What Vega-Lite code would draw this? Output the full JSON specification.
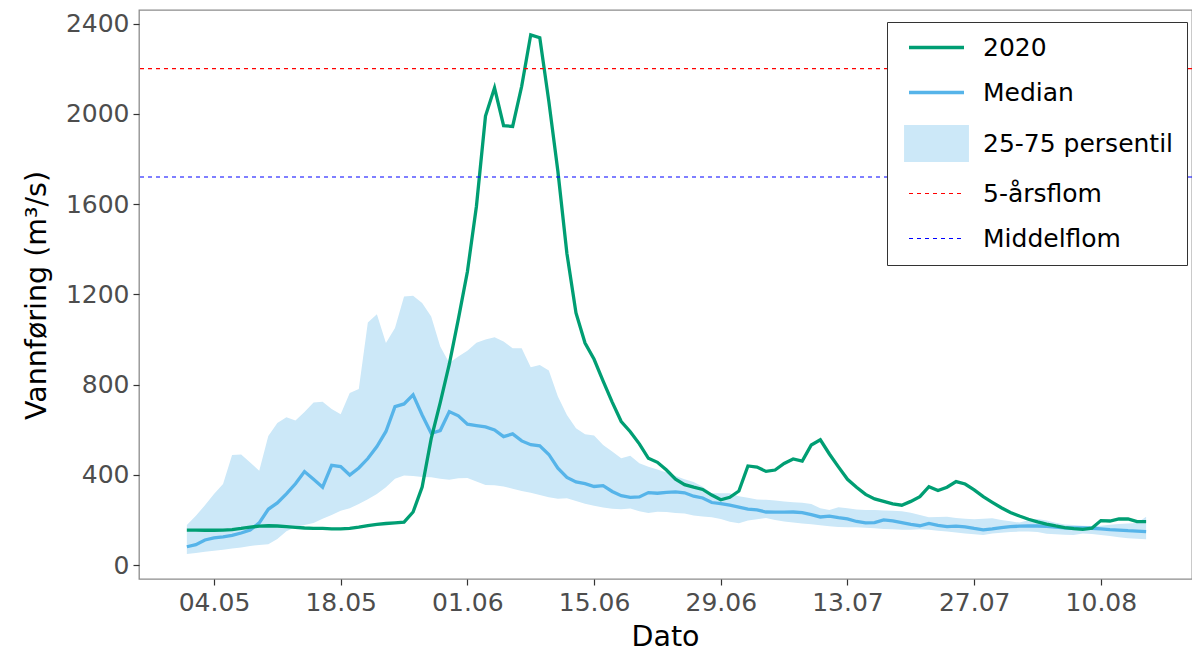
{
  "$schema": "https://vega.github.io/schema/vega-lite/v6.json",
  "autosize": "none",
  "padding": {"left": 139, "top": 10, "right": 0, "bottom": 74},
  "width": 1053,
  "height": 569,
  "background": "white",
  "config": {
    "font": "DejaVu Sans",
    "view": {"stroke": "#8C8C8C", "strokeWidth": 1.3},
    "legend": {
      "title": null,
      "orient": "none",
      "legendX": 748,
      "legendY": 12,
      "direction": "vertical",
      "padding": 13,
      "strokeColor": "#333333",
      "fillColor": "#FFFFFF",
      "cornerRadius": 0,
      "symbolType": "stroke",
      "symbolSize": 3025,
      "symbolStrokeWidth": 3.3,
      "symbolOffset": 24,
      "labelOffset": 34,
      "labelFont": "DejaVu Sans",
      "labelFontSize": 25,
      "labelColor": "#000000",
      "labelLimit": 400,
      "rowPadding": 19
    }
  },
  "datasets": {
    "flow": [
      {"d":"2020-05-01","2020":155,"Median":81,"p25":49,"p75":177},
      {"d":"2020-05-02","2020":155,"Median":90,"p25":53,"p75":218},
      {"d":"2020-05-03","2020":154,"Median":111,"p25":59,"p75":265},
      {"d":"2020-05-04","2020":154,"Median":120,"p25":63,"p75":315},
      {"d":"2020-05-05","2020":155,"Median":125,"p25":68,"p75":359},
      {"d":"2020-05-06","2020":157,"Median":131,"p25":73,"p75":488},
      {"d":"2020-05-07","2020":162,"Median":142,"p25":78,"p75":490},
      {"d":"2020-05-08","2020":168,"Median":155,"p25":84,"p75":454},
      {"d":"2020-05-09","2020":172,"Median":187,"p25":89,"p75":418},
      {"d":"2020-05-10","2020":174,"Median":247,"p25":92,"p75":572},
      {"d":"2020-05-11","2020":173,"Median":275,"p25":115,"p75":630},
      {"d":"2020-05-12","2020":170,"Median":315,"p25":150,"p75":655},
      {"d":"2020-05-13","2020":167,"Median":360,"p25":168,"p75":640},
      {"d":"2020-05-14","2020":164,"Median":414,"p25":177,"p75":678},
      {"d":"2020-05-15","2020":162,"Median":380,"p25":186,"p75":720},
      {"d":"2020-05-16","2020":162,"Median":345,"p25":205,"p75":724},
      {"d":"2020-05-17","2020":160,"Median":442,"p25":222,"p75":692},
      {"d":"2020-05-18","2020":160,"Median":436,"p25":240,"p75":668},
      {"d":"2020-05-19","2020":162,"Median":399,"p25":252,"p75":762},
      {"d":"2020-05-20","2020":168,"Median":430,"p25":270,"p75":780},
      {"d":"2020-05-21","2020":175,"Median":472,"p25":292,"p75":1075},
      {"d":"2020-05-22","2020":180,"Median":525,"p25":315,"p75":1112},
      {"d":"2020-05-23","2020":184,"Median":592,"p25":345,"p75":984},
      {"d":"2020-05-24","2020":187,"Median":702,"p25":382,"p75":1050},
      {"d":"2020-05-25","2020":190,"Median":714,"p25":397,"p75":1190},
      {"d":"2020-05-26","2020":235,"Median":754,"p25":395,"p75":1193},
      {"d":"2020-05-27","2020":345,"Median":665,"p25":390,"p75":1161},
      {"d":"2020-05-28","2020":560,"Median":584,"p25":389,"p75":1102},
      {"d":"2020-05-29","2020":720,"Median":596,"p25":382,"p75":968},
      {"d":"2020-05-30","2020":890,"Median":680,"p25":378,"p75":895},
      {"d":"2020-05-31","2020":1090,"Median":661,"p25":385,"p75":924},
      {"d":"2020-06-01","2020":1300,"Median":624,"p25":386,"p75":950},
      {"d":"2020-06-02","2020":1590,"Median":618,"p25":370,"p75":985},
      {"d":"2020-06-03","2020":1990,"Median":612,"p25":355,"p75":1000},
      {"d":"2020-06-04","2020":2115,"Median":599,"p25":353,"p75":1010},
      {"d":"2020-06-05","2020":1947,"Median":569,"p25":348,"p75":991},
      {"d":"2020-06-06","2020":1944,"Median":581,"p25":338,"p75":961},
      {"d":"2020-06-07","2020":2122,"Median":550,"p25":328,"p75":961},
      {"d":"2020-06-08","2020":2350,"Median":533,"p25":320,"p75":877},
      {"d":"2020-06-09","2020":2337,"Median":528,"p25":310,"p75":887},
      {"d":"2020-06-10","2020":2055,"Median":490,"p25":300,"p75":862},
      {"d":"2020-06-11","2020":1745,"Median":429,"p25":294,"p75":747},
      {"d":"2020-06-12","2020":1380,"Median":388,"p25":296,"p75":665},
      {"d":"2020-06-13","2020":1117,"Median":368,"p25":284,"p75":606},
      {"d":"2020-06-14","2020":984,"Median":361,"p25":272,"p75":580},
      {"d":"2020-06-15","2020":912,"Median":348,"p25":263,"p75":574},
      {"d":"2020-06-16","2020":815,"Median":352,"p25":255,"p75":532},
      {"d":"2020-06-17","2020":722,"Median":326,"p25":249,"p75":503},
      {"d":"2020-06-18","2020":636,"Median":307,"p25":247,"p75":473},
      {"d":"2020-06-19","2020":591,"Median":300,"p25":251,"p75":484},
      {"d":"2020-06-20","2020":537,"Median":302,"p25":238,"p75":451},
      {"d":"2020-06-21","2020":473,"Median":321,"p25":230,"p75":435},
      {"d":"2020-06-22","2020":455,"Median":318,"p25":236,"p75":423},
      {"d":"2020-06-23","2020":421,"Median":322,"p25":235,"p75":410},
      {"d":"2020-06-24","2020":380,"Median":324,"p25":231,"p75":395},
      {"d":"2020-06-25","2020":356,"Median":320,"p25":228,"p75":380},
      {"d":"2020-06-26","2020":345,"Median":305,"p25":220,"p75":368},
      {"d":"2020-06-27","2020":335,"Median":297,"p25":215,"p75":347},
      {"d":"2020-06-28","2020":310,"Median":277,"p25":212,"p75":318},
      {"d":"2020-06-29","2020":289,"Median":272,"p25":204,"p75":318},
      {"d":"2020-06-30","2020":300,"Median":265,"p25":192,"p75":318},
      {"d":"2020-07-01","2020":328,"Median":257,"p25":185,"p75":305},
      {"d":"2020-07-02","2020":439,"Median":248,"p25":197,"p75":298},
      {"d":"2020-07-03","2020":434,"Median":244,"p25":203,"p75":290},
      {"d":"2020-07-04","2020":415,"Median":235,"p25":208,"p75":289},
      {"d":"2020-07-05","2020":421,"Median":234,"p25":200,"p75":286},
      {"d":"2020-07-06","2020":450,"Median":234,"p25":193,"p75":281},
      {"d":"2020-07-07","2020":470,"Median":235,"p25":188,"p75":278},
      {"d":"2020-07-08","2020":461,"Median":232,"p25":184,"p75":276},
      {"d":"2020-07-09","2020":532,"Median":223,"p25":181,"p75":270},
      {"d":"2020-07-10","2020":555,"Median":213,"p25":176,"p75":252},
      {"d":"2020-07-11","2020":492,"Median":217,"p25":172,"p75":244},
      {"d":"2020-07-12","2020":435,"Median":210,"p25":168,"p75":256},
      {"d":"2020-07-13","2020":380,"Median":204,"p25":167,"p75":252},
      {"d":"2020-07-14","2020":345,"Median":193,"p25":167,"p75":246},
      {"d":"2020-07-15","2020":313,"Median":187,"p25":165,"p75":244},
      {"d":"2020-07-16","2020":293,"Median":188,"p25":163,"p75":244},
      {"d":"2020-07-17","2020":282,"Median":200,"p25":160,"p75":242},
      {"d":"2020-07-18","2020":271,"Median":196,"p25":158,"p75":241},
      {"d":"2020-07-19","2020":265,"Median":188,"p25":156,"p75":238},
      {"d":"2020-07-20","2020":282,"Median":180,"p25":156,"p75":232},
      {"d":"2020-07-21","2020":303,"Median":174,"p25":158,"p75":222},
      {"d":"2020-07-22","2020":347,"Median":184,"p25":156,"p75":212},
      {"d":"2020-07-23","2020":330,"Median":176,"p25":152,"p75":213},
      {"d":"2020-07-24","2020":345,"Median":170,"p25":148,"p75":214},
      {"d":"2020-07-25","2020":370,"Median":172,"p25":144,"p75":208},
      {"d":"2020-07-26","2020":359,"Median":169,"p25":140,"p75":205},
      {"d":"2020-07-27","2020":333,"Median":162,"p25":136,"p75":203},
      {"d":"2020-07-28","2020":303,"Median":156,"p25":133,"p75":205},
      {"d":"2020-07-29","2020":278,"Median":160,"p25":140,"p75":207},
      {"d":"2020-07-30","2020":254,"Median":166,"p25":143,"p75":200},
      {"d":"2020-07-31","2020":233,"Median":170,"p25":146,"p75":194},
      {"d":"2020-08-01","2020":217,"Median":172,"p25":148,"p75":188},
      {"d":"2020-08-02","2020":203,"Median":173,"p25":148,"p75":198},
      {"d":"2020-08-03","2020":191,"Median":173,"p25":146,"p75":204},
      {"d":"2020-08-04","2020":181,"Median":171,"p25":139,"p75":197},
      {"d":"2020-08-05","2020":173,"Median":168,"p25":136,"p75":187},
      {"d":"2020-08-06","2020":166,"Median":165,"p25":134,"p75":180},
      {"d":"2020-08-07","2020":161,"Median":164,"p25":133,"p75":177},
      {"d":"2020-08-08","2020":158,"Median":164,"p25":140,"p75":174},
      {"d":"2020-08-09","2020":163,"Median":163,"p25":137,"p75":173},
      {"d":"2020-08-10","2020":197,"Median":160,"p25":133,"p75":174},
      {"d":"2020-08-11","2020":195,"Median":157,"p25":129,"p75":178},
      {"d":"2020-08-12","2020":204,"Median":155,"p25":123,"p75":182},
      {"d":"2020-08-13","2020":204,"Median":152,"p25":119,"p75":184},
      {"d":"2020-08-14","2020":192,"Median":150,"p25":116,"p75":186},
      {"d":"2020-08-15","2020":192,"Median":148,"p25":114,"p75":214}
    ],
    "refs": [
      {"serie": "5-årsflom", "v": 2200},
      {"serie": "Middelflom", "v": 1720}
    ]
  },
  "layer": [
    {
      "data": {"name": "flow"},
      "mark": {"type": "area", "opacity": 1, "fillOpacity": 1},
      "encoding": {
        "x": {
          "field": "d", "type": "temporal",
          "scale": {"type": "utc", "nice": false, "domain": [
            {"year": 2020, "month": 4, "date": 25, "hours": 17, "minutes": 7, "utc": true},
            {"year": 2020, "month": 8, "date": 20, "hours": 1, "minutes": 40, "utc": true}
          ]},
          "axis": {
            "title": "Dato",
            "values": [
              {"year": 2020, "month": 5, "date": 4, "utc": true},
              {"year": 2020, "month": 5, "date": 18, "utc": true},
              {"year": 2020, "month": 6, "date": 1, "utc": true},
              {"year": 2020, "month": 6, "date": 15, "utc": true},
              {"year": 2020, "month": 6, "date": 29, "utc": true},
              {"year": 2020, "month": 7, "date": 13, "utc": true},
              {"year": 2020, "month": 7, "date": 27, "utc": true},
              {"year": 2020, "month": 8, "date": 10, "utc": true}
            ],
            "format": "%d.%m",
            "grid": false,
            "domain": false,
            "ticks": true, "tickSize": 6, "tickColor": "#333333", "tickWidth": 1.2,
            "labelPadding": 5, "labelFontSize": 25, "labelColor": "#4D4D4D",
            "labelFlush": false, "labelOverlap": false,
            "titleFontSize": 28.5, "titleFontWeight": "normal", "titleColor": "#000000",
            "titleX": 526, "titleY": 57, "titleBaseline": "middle", "titleAlign": "center"
          }
        },
        "y": {
          "field": "p25", "type": "quantitative",
          "scale": {"domain": [-62, 2460], "nice": false, "zero": false},
          "axis": {
            "title": "Vannføring (m³/s)",
            "values": [0, 400, 800, 1200, 1600, 2000, 2400],
            "format": "d",
            "grid": false,
            "domain": false,
            "tickSize": 6, "tickColor": "#333333", "tickWidth": 1.2,
            "labelPadding": 4, "labelFontSize": 25, "labelColor": "#4D4D4D",
            "labelFlush": false, "labelOverlap": false,
            "titleFontSize": 28.5, "titleFontWeight": "normal", "titleColor": "#000000",
            "titleX": -103, "titleY": 285, "titleBaseline": "middle", "titleAlign": "center", "titleAngle": -90
          }
        },
        "y2": {"field": "p75"},
        "color": {
          "datum": "25-75 persentil", "type": "nominal", "title": null,
          "scale": {
            "domain": ["2020", "Median", "25-75 persentil", "5-årsflom", "Middelflom"],
            "range": ["#009E73", "#56B4E9", "#CCE8F8", "#FF0000", "#0000FF"]
          },
          "legend": {
            "title": null,
            "encode": {
              "symbols": {
                "update": {
                  "shape": {"signal": "datum.index === 2 ? 'M-1.18,-0.67H1.18V0.67H-1.18Z' : 'stroke'"},
                  "fill": {"scale": "color", "field": "value"},
                  "stroke": {"scale": "color", "field": "value"},
                  "fillOpacity": {"signal": "datum.index === 2 ? 1 : 0"},
                  "strokeOpacity": {"signal": "datum.index === 2 ? 0 : 1"},
                  "strokeWidth": {"signal": "datum.index >= 3 ? 1.1 : 3.3"},
                  "strokeDash": {"signal": "datum.index >= 3 ? [4, 4] : []"},
                  "opacity": {"value": 1}
                }
              }
            }
          }
        }
      }
    },
    {
      "data": {"name": "flow"},
      "mark": {"type": "line", "strokeWidth": 3.3},
      "encoding": {
        "x": {"field": "d", "type": "temporal"},
        "y": {"field": "Median", "type": "quantitative"},
        "color": {
          "datum": "Median", "type": "nominal", "title": null,
          "legend": {
            "title": null,
            "encode": {
              "symbols": {
                "update": {
                  "shape": {"signal": "datum.index === 2 ? 'M-1.18,-0.67H1.18V0.67H-1.18Z' : 'stroke'"},
                  "fill": {"scale": "color", "field": "value"},
                  "stroke": {"scale": "color", "field": "value"},
                  "fillOpacity": {"signal": "datum.index === 2 ? 1 : 0"},
                  "strokeOpacity": {"signal": "datum.index === 2 ? 0 : 1"},
                  "strokeWidth": {"signal": "datum.index >= 3 ? 1.1 : 3.3"},
                  "strokeDash": {"signal": "datum.index >= 3 ? [4, 4] : []"},
                  "opacity": {"value": 1}
                }
              }
            }
          }
        }
      }
    },
    {
      "data": {"name": "flow"},
      "mark": {"type": "line", "strokeWidth": 3.3},
      "encoding": {
        "x": {"field": "d", "type": "temporal"},
        "y": {"field": "2020", "type": "quantitative"},
        "color": {
          "datum": "2020", "type": "nominal", "title": null,
          "legend": {
            "title": null,
            "encode": {
              "symbols": {
                "update": {
                  "shape": {"signal": "datum.index === 2 ? 'M-1.18,-0.67H1.18V0.67H-1.18Z' : 'stroke'"},
                  "fill": {"scale": "color", "field": "value"},
                  "stroke": {"scale": "color", "field": "value"},
                  "fillOpacity": {"signal": "datum.index === 2 ? 1 : 0"},
                  "strokeOpacity": {"signal": "datum.index === 2 ? 0 : 1"},
                  "strokeWidth": {"signal": "datum.index >= 3 ? 1.1 : 3.3"},
                  "strokeDash": {"signal": "datum.index >= 3 ? [4, 4] : []"},
                  "opacity": {"value": 1}
                }
              }
            }
          }
        }
      }
    },
    {
      "data": {"name": "refs"},
      "mark": {"type": "rule", "strokeDash": [4, 4], "strokeWidth": 1.1},
      "encoding": {
        "y": {"field": "v", "type": "quantitative"},
        "color": {
          "field": "serie", "type": "nominal", "title": null,
          "legend": {
            "title": null,
            "encode": {
              "symbols": {
                "update": {
                  "shape": {"signal": "datum.index === 2 ? 'M-1.18,-0.67H1.18V0.67H-1.18Z' : 'stroke'"},
                  "fill": {"scale": "color", "field": "value"},
                  "stroke": {"scale": "color", "field": "value"},
                  "fillOpacity": {"signal": "datum.index === 2 ? 1 : 0"},
                  "strokeOpacity": {"signal": "datum.index === 2 ? 0 : 1"},
                  "strokeWidth": {"signal": "datum.index >= 3 ? 1.1 : 3.3"},
                  "strokeDash": {"signal": "datum.index >= 3 ? [4, 4] : []"},
                  "opacity": {"value": 1}
                }
              }
            }
          }
        }
      }
    }
  ]
}
